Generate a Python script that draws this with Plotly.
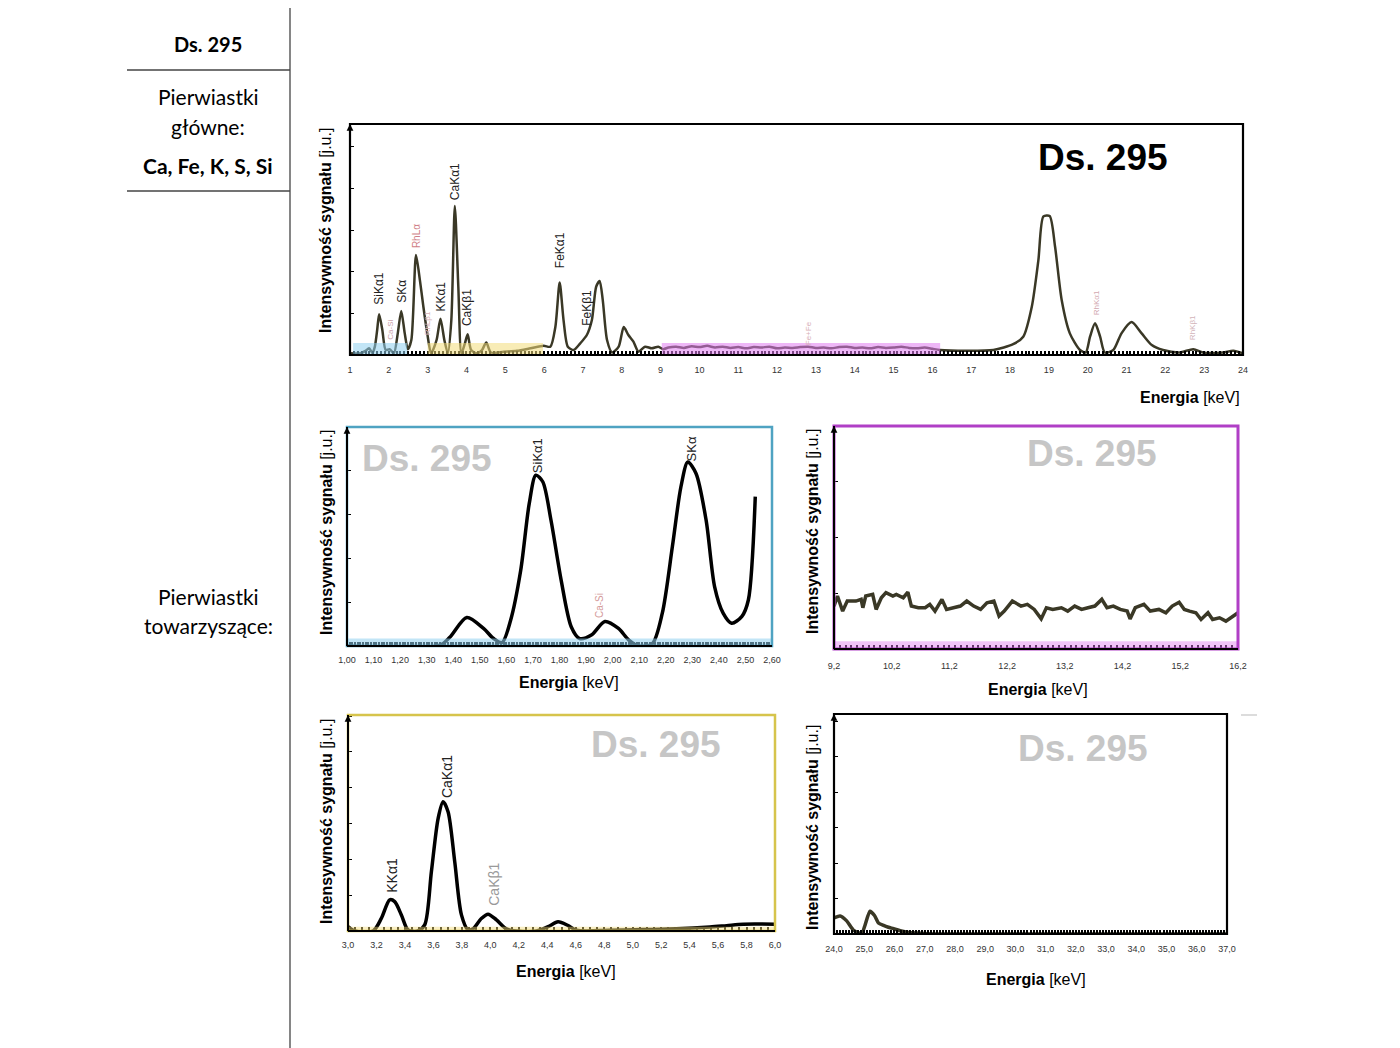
import plotly.graph_objects as go

W, H = 1400, 1048
OFF = 8  # default page body margin in the browser

# ---------------- data ----------------
# main spectrum 1-24 keV (intensity in arbitrary units)
main_kev = [1.00, 1.27, 1.40, 1.49, 1.58, 1.64, 1.70, 1.75, 1.83, 1.92, 2.02, 2.13, 2.23, 2.32, 2.41, 2.49,
            2.58, 2.70, 2.80, 2.89, 2.99, 3.09, 3.23, 3.33, 3.43, 3.52, 3.61, 3.70, 3.79, 3.87, 3.96, 4.03,
            4.12, 4.27, 4.40, 4.51, 4.63, 4.96, 5.30, 5.65, 5.99, 6.16, 6.29, 6.40, 6.50, 6.61, 6.76, 6.93,
            7.10, 7.23, 7.34, 7.43, 7.51, 7.62, 7.75, 7.92, 8.05, 8.17, 8.30, 8.43, 8.60, 8.77, 8.94, 9.07,
            9.2, 9.4, 9.6, 9.8, 10.0, 10.2, 10.4, 10.6, 10.8, 11.0, 11.2, 11.4, 11.6, 11.8, 12.0, 12.2,
            12.4, 12.6, 12.8, 13.0, 13.2, 13.4, 13.6, 13.8, 14.0, 14.2, 14.4, 14.6, 14.8, 15.0, 15.2, 15.4,
            15.6, 15.8, 16.0, 16.19, 16.88, 17.57, 18.08, 18.34, 18.56, 18.73, 18.86, 19.02, 19.16, 19.33,
            19.54, 19.80, 19.95, 20.06, 20.19, 20.32, 20.44, 20.66, 20.87, 21.13, 21.39, 21.65, 21.94,
            22.37, 22.72, 22.97, 23.48, 23.75, 24.00]
main_int = [0.04, 0.04, 0.10, 0.16, 0.05, 0.20, 0.60, 0.98, 0.62, 0.12, 0.14, 0.04, 0.52, 1.06, 0.52, 0.14,
            0.36, 2.40, 1.80, 1.16, 0.52, 0.04, 0.36, 0.87, 0.36, 0.04, 0.84, 3.58, 1.64, 0.04, 0.28, 0.50,
            0.12, 0.04, 0.12, 0.30, 0.06, 0.08, 0.10, 0.16, 0.22, 0.20, 0.68, 1.74, 0.84, 0.20, 0.12, 0.28,
            0.48, 0.84, 1.64, 1.78, 1.32, 0.36, 0.06, 0.20, 0.67, 0.48, 0.32, 0.08, 0.20, 0.16, 0.20, 0.14,
            0.18, 0.20, 0.17, 0.21, 0.19, 0.22, 0.18, 0.20, 0.17, 0.19, 0.16, 0.19, 0.18, 0.20, 0.16, 0.18,
            0.17, 0.19, 0.20, 0.17, 0.18, 0.16, 0.19, 0.20, 0.17, 0.18, 0.16, 0.19, 0.17, 0.18, 0.20, 0.17,
            0.16, 0.18, 0.15, 0.12, 0.10, 0.12, 0.26, 0.44, 1.16, 2.28, 3.33, 3.34, 2.60, 1.32,
            0.52, 0.12, 0.06, 0.44, 0.76, 0.44, 0.06, 0.12, 0.52, 0.79, 0.52, 0.24, 0.12,
            0.06, 0.14, 0.06, 0.06, 0.10, 0.04]

# Si / S detail 1.00-2.60 keV
si_kev = [1.00, 1.35, 1.387, 1.451, 1.514, 1.552, 1.584, 1.616, 1.654, 1.686, 1.711, 1.737, 1.768, 1.806,
          1.844, 1.876, 1.92, 1.971, 2.022, 2.06, 2.098, 2.149, 2.187, 2.225, 2.257, 2.283, 2.314, 2.352,
          2.384, 2.416, 2.448, 2.486, 2.511, 2.537]
si_int = [0.0, 0.02, 0.20, 0.65, 0.40, 0.17, 0.08, 0.59, 1.73, 3.25, 3.90, 3.75, 2.87, 1.51,
          0.44, 0.17, 0.25, 0.56, 0.40, 0.14, 0.0, 0.05, 0.75, 2.27, 3.63, 4.20, 3.94, 2.87,
          1.35, 0.75, 0.52, 0.67, 1.05, 3.41]

# 9.2-16.2 keV detail
mid_kev = [9.20, 9.26, 9.35, 9.43, 9.58, 9.67, 9.70, 9.75, 9.87, 9.93, 10.02, 10.10, 10.22, 10.28, 10.40,
           10.48, 10.54, 10.66, 10.78, 10.86, 10.95, 11.07, 11.15, 11.27, 11.39, 11.50, 11.62, 11.74,
           11.85, 11.97, 12.06, 12.15, 12.29, 12.44, 12.55, 12.67, 12.79, 12.88, 12.99, 13.14, 13.25,
           13.37, 13.49, 13.60, 13.72, 13.84, 13.93, 14.04, 14.16, 14.28, 14.33, 14.42, 14.57, 14.68,
           14.83, 14.95, 15.06, 15.18, 15.27, 15.36, 15.47, 15.56, 15.68, 15.76, 15.88, 15.99, 16.11, 16.20]
mid_int = [0.77, 0.95, 0.68, 0.86, 0.86, 0.89, 0.74, 0.95, 0.98, 0.71, 0.92, 1.01, 0.95, 0.98, 0.92,
           1.02, 0.77, 0.74, 0.74, 0.80, 0.68, 0.89, 0.71, 0.74, 0.77, 0.86, 0.77, 0.71,
           0.83, 0.86, 0.59, 0.68, 0.86, 0.77, 0.80, 0.71, 0.54, 0.74, 0.71, 0.74, 0.68,
           0.77, 0.71, 0.74, 0.77, 0.89, 0.74, 0.77, 0.71, 0.68, 0.54, 0.74, 0.80, 0.68,
           0.71, 0.65, 0.77, 0.84, 0.71, 0.68, 0.65, 0.53, 0.65, 0.53, 0.56, 0.50, 0.59, 0.65]

# K / Ca detail 3.0-6.0 keV
ca_kev = [3.0, 3.047, 3.176, 3.234, 3.293, 3.328, 3.375, 3.422, 3.49, 3.539, 3.586, 3.633, 3.668, 3.703,
          3.75, 3.797, 3.844, 3.879, 3.937, 3.984, 4.043, 4.113, 4.183, 4.324, 4.406, 4.476, 4.547,
          4.605, 4.84, 5.074, 5.308, 5.543, 5.66, 5.777, 6.0]
ca_int = [0.12, 0.0, 0.0, 0.35, 0.87, 0.82, 0.45, 0.03, 0.0, 0.17, 1.66, 3.14, 3.61, 3.33,
          1.93, 0.45, 0.03, 0.06, 0.35, 0.47, 0.31, 0.06, 0.0, 0.0, 0.12, 0.26, 0.15,
          0.02, 0.02, 0.04, 0.06, 0.11, 0.15, 0.19, 0.19]

# 24-37 keV detail
hi_kev = [24.0, 24.2, 24.42, 24.64, 24.92, 25.03, 25.19, 25.34, 25.47, 25.64, 25.80, 25.97, 26.19, 26.47,
          27.08, 37.0]
hi_int = [0.45, 0.51, 0.37, 0.11, 0.02, 0.26, 0.64, 0.52, 0.31, 0.24, 0.19, 0.15, 0.09, 0.04, 0.01, 0.0]

main_labels = [("SiKα1", 1.75, 1.15, "#222"), ("SKα", 2.32, 1.2, "#222"), ("KKα1", 3.35, 1.0, "#222"),
               ("CaKα1", 3.70, 3.68, "#222"), ("CaKβ1", 4.03, 0.65, "#222"), ("FeKα1", 6.41, 2.04, "#222"),
               ("FeKβ1", 7.10, 0.65, "#222")]
main_faint = [("Ca-Si", 2.02, 0.31, 8, "#c9a0a8"), ("RhLα", 2.70, 2.52, 10, "#cf7f86"),
              ("RhLβ1", 2.99, 0.43, 8, "#d7b0b6"), ("Fe+Fe", 12.8, 0.19, 8, "#d7b0b6"),
              ("RhKα1", 20.23, 0.91, 8, "#d2a8b0"), ("RhKβ1", 22.70, 0.31, 8, "#d2b4ba")]

FONT = "Liberation Sans, Arial, sans-serif"
LINE_DARK = "#3a3826"


def px(x):
    return (x - OFF) / W


def py(y):
    return 1 - (y - OFF) / H


fig = go.Figure()

fig.add_trace(go.Scatter(x=main_kev, y=main_int, mode="lines", xaxis="x", yaxis="y",
                         line=dict(color=LINE_DARK, width=2.5, shape="spline", smoothing=0.7),
                         showlegend=False, hoverinfo="skip"))
fig.add_trace(go.Scatter(x=si_kev, y=si_int, mode="lines", xaxis="x2", yaxis="y2",
                         line=dict(color="black", width=3.5, shape="spline", smoothing=0.8),
                         showlegend=False, hoverinfo="skip"))
fig.add_trace(go.Scatter(x=mid_kev, y=mid_int, mode="lines", xaxis="x3", yaxis="y3",
                         line=dict(color=LINE_DARK, width=3.5),
                         showlegend=False, hoverinfo="skip"))
fig.add_trace(go.Scatter(x=ca_kev, y=ca_int, mode="lines", xaxis="x4", yaxis="y4",
                         line=dict(color="black", width=3.5, shape="spline", smoothing=0.8),
                         showlegend=False, hoverinfo="skip"))
fig.add_trace(go.Scatter(x=hi_kev, y=hi_int, mode="lines", xaxis="x5", yaxis="y5",
                         line=dict(color=LINE_DARK, width=3.5, shape="spline", smoothing=0.6),
                         showlegend=False, hoverinfo="skip"))

tickfont = dict(family=FONT, size=9, color="#333")


def xax(dom, rng, dtick, minor, fmt, anchor, standoff=6):
    return dict(domain=dom, range=rng, anchor=anchor, tickmode="linear", tick0=rng[0], dtick=dtick,
                tickformat=fmt, showgrid=False, zeroline=False, showline=False, automargin=False,
                ticks="inside", ticklen=4, tickwidth=1.5, tickcolor="black",
                minor=dict(dtick=minor, ticks="inside", ticklen=4, tickwidth=1.5, tickcolor="black",
                           showgrid=False),
                tickfont=tickfont, ticklabelstandoff=standoff, fixedrange=True)


def yax(dom, rng, anchor):
    return dict(domain=dom, range=rng, anchor=anchor, tickmode="linear", tick0=0, dtick=1,
                showticklabels=False, showgrid=False, zeroline=False, showline=False, automargin=False,
                ticks="inside", ticklen=4, tickwidth=1.2, tickcolor="black", fixedrange=True)


dom = {
    "m": ([px(350), px(1243)], [py(355), py(124)]),
    "a": ([px(347), px(772)], [py(646), py(427)]),
    "b": ([px(834), px(1238)], [py(649), py(426)]),
    "c": ([px(348), px(775)], [py(931), py(715)]),
    "d": ([px(834), px(1227)], [py(934), py(714)]),
}

fig.update_layout(
    xaxis=xax(dom["m"][0], [1, 24], 1, 0.1, "d", "y", 8),
    yaxis=yax(dom["m"][1], [0, 5.55], "x"),
    xaxis2=xax(dom["a"][0], [1.0, 2.6], 0.1, 0.01, ".2f", "y2", 7),
    yaxis2=yax(dom["a"][1], [0, 5.0], "x2"),
    xaxis3=xax(dom["b"][0], [9.2, 16.2], 1, 0.1, ".1f", "y3", 10),
    yaxis3=yax(dom["b"][1], [0, 4.0], "x3"),
    xaxis4=xax(dom["c"][0], [3.0, 6.0], 0.2, 0.05, ".1f", "y4", 7),
    yaxis4=yax(dom["c"][1], [0, 6.03], "x4"),
    xaxis5=xax(dom["d"][0], [24.0, 37.0], 1, 0.1, ".1f", "y5", 8),
    yaxis5=yax(dom["d"][1], [0, 6.2], "x5"),
)

shapes = []
# left table lines
shapes.append(dict(type="line", xref="paper", yref="paper", x0=px(290), x1=px(290), y0=0, y1=1,
                   line=dict(color="#444", width=1.3)))
for yy in (70, 191):
    shapes.append(dict(type="line", xref="paper", yref="paper", x0=px(127), x1=px(290), y0=py(yy), y1=py(yy),
                       line=dict(color="#444", width=1.3)))

# highlight bands in main chart
bands = [(1.08, 2.47, "#8fd0ee"), (3.0, 5.97, "#f3dc7a"), (9.03, 16.2, "#e07cf0")]
for x0, x1, col in bands:
    shapes.append(dict(type="rect", xref="x", yref="y", x0=x0, x1=x1, y0=0, y1=0.29,
                       fillcolor=col, opacity=0.55, line=dict(width=0), layer="above"))
# bands in details
shapes.append(dict(type="rect", xref="x2", yref="y2", x0=1.0, x1=2.6, y0=0, y1=0.17,
                   fillcolor="#8fd0ee", opacity=0.55, line=dict(width=0), layer="above"))
shapes.append(dict(type="rect", xref="x3", yref="y3", x0=9.2, x1=16.2, y0=0, y1=0.14,
                   fillcolor="#e07cf0", opacity=0.45, line=dict(width=0), layer="above"))
shapes.append(dict(type="rect", xref="x4", yref="y4", x0=3.0, x1=6.0, y0=0, y1=0.12,
                   fillcolor="#f3dc7a", opacity=0.45, line=dict(width=0), layer="above"))

# frames
frames = [("x", "y", "black", 2.2), ("x2", "y2", "#4fa3c2", 2.5), ("x3", "y3", "#b03fc6", 3),
          ("x4", "y4", "#d6c44c", 2.5), ("x5", "y5", "black", 2.2)]
for xa, ya, col, wd in frames:
    shapes.append(dict(type="rect", xref=f"{xa} domain", yref=f"{ya} domain", x0=0, x1=1, y0=0, y1=1,
                       line=dict(color=col, width=wd), layer="above"))
    shapes.append(dict(type="line", xref=f"{xa} domain", yref=f"{ya} domain", x0=0, x1=0, y0=0, y1=1,
                       line=dict(color="black", width=2), layer="above"))
    shapes.append(dict(type="line", xref=f"{xa} domain", yref=f"{ya} domain", x0=0, x1=1, y0=0, y1=0,
                       line=dict(color="black", width=2), layer="above"))

# stray grey dash top right
shapes.append(dict(type="line", xref="paper", yref="paper", x0=px(1241), x1=px(1257), y0=py(715), y1=py(715),
                   line=dict(color="#dcdcdc", width=2)))

annotations = []


def ann(text, x, y, size, color="black", bold=False, family=FONT, **kw):
    t = f"<b>{text}</b>" if bold else text
    d = dict(text=t, x=px(x), y=py(y), xref="paper", yref="paper", showarrow=False,
             font=dict(family=family, size=size, color=color), xanchor="center", yanchor="middle")
    d.update(kw)
    annotations.append(d)


TFONT = "Lato, Noto Sans, sans-serif"
ann("Ds. 295", 208, 44, 20, bold=True, family=TFONT)
ann("Pierwiastki", 208, 97, 21, family=TFONT)
ann("główne:", 208, 126, 21, family=TFONT)
ann("Ca, Fe, K, S, Si", 208, 166, 21, bold=True, family=TFONT)
ann("Pierwiastki", 208, 596, 21, family=TFONT)
ann("towarzyszące:", 208, 625, 21, family=TFONT)

# big sample labels
ann("Ds. 295", 1103, 157, 37, color="black", bold=True)
ann("Ds. 295", 427, 458, 37, color="#c6c6c6", bold=True)
ann("Ds. 295", 1092, 453, 37, color="#c6c6c6", bold=True)
ann("Ds. 295", 656, 744, 37, color="#c6c6c6", bold=True)
ann("Ds. 295", 1083, 748, 37, color="#c6c6c6", bold=True)

# axis titles
ytitle = "<b>Intensywność sygnału</b> [j.u.]"
for (x, y) in [(326, 231), (326, 533), (812, 532), (326, 822), (812, 828)]:
    annotations.append(dict(text=ytitle, x=px(x), y=py(y), xref="paper", yref="paper", showarrow=False,
                            textangle=-90, font=dict(family=FONT, size=16, color="black"),
                            xanchor="center", yanchor="middle"))
xtitle = "<b>Energia</b> [keV]"
for (x, y) in [(1190, 397), (569, 682), (1038, 689), (566, 971), (1036, 979)]:
    annotations.append(dict(text=xtitle, x=px(x), y=py(y), xref="paper", yref="paper", showarrow=False,
                            font=dict(family=FONT, size=16, color="black"),
                            xanchor="center", yanchor="middle"))

# axis arrows
for xa, ya in [("x", "y"), ("x2", "y2"), ("x3", "y3"), ("x4", "y4"), ("x5", "y5")]:
    annotations.append(dict(text="", x=0, y=1.0, xref=f"{xa} domain", yref=f"{ya} domain",
                            ax=0, ay=14, axref="pixel", ayref="pixel", showarrow=True,
                            arrowhead=2, arrowsize=0.9, arrowwidth=1.5, arrowcolor="black"))

# peak labels main
for t, x, y, c in main_labels:
    annotations.append(dict(text=t, x=x, y=y, xref="x", yref="y", showarrow=False, textangle=-90,
                            xanchor="center", yanchor="bottom", font=dict(family=FONT, size=12, color=c)))
for t, x, y, s, c in main_faint:
    annotations.append(dict(text=t, x=x, y=y, xref="x", yref="y", showarrow=False, textangle=-90,
                            xanchor="center", yanchor="bottom", font=dict(family=FONT, size=s, color=c)))

# peak labels details
for t, x, y, s, c, xa, ya in [("SiKα1", 1.717, 3.9, 13, "#222", "x2", "y2"),
                              ("SKα", 2.295, 4.18, 13, "#222", "x2", "y2"),
                              ("Ca-Si", 1.95, 0.59, 10, "#d49a9a", "x2", "y2"),
                              ("KKα1", 3.31, 1.0, 14, "#222", "x4", "y4"),
                              ("CaKα1", 3.70, 3.66, 14, "#222", "x4", "y4"),
                              ("CaKβ1", 4.02, 0.64, 14, "#999", "x4", "y4")]:
    annotations.append(dict(text=t, x=x, y=y, xref=xa, yref=ya, showarrow=False, textangle=-90,
                            xanchor="center", yanchor="bottom", font=dict(family=FONT, size=s, color=c)))

fig.update_layout(
    width=W, height=H, margin=dict(l=0, r=0, t=0, b=0, autoexpand=False),
    paper_bgcolor="white", plot_bgcolor="white",
    separators=", ", shapes=shapes, annotations=annotations, showlegend=False,
    font=dict(family=FONT),
)

fig.write_html("out.html")
